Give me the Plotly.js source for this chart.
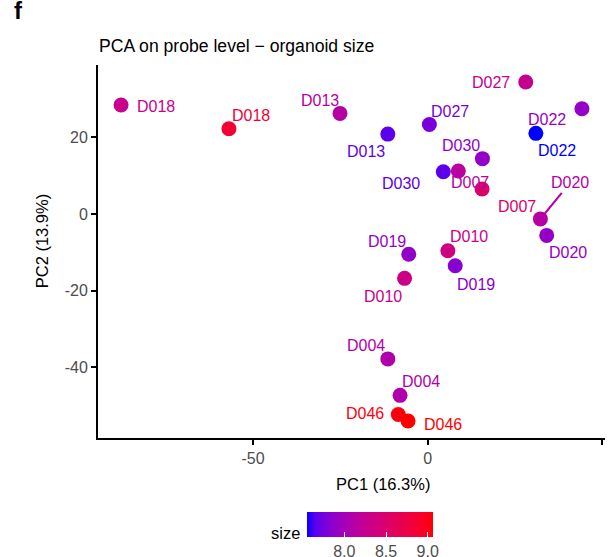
<!DOCTYPE html>
<html>
<head>
<meta charset="utf-8">
<script src="https://cdn.plot.ly/plotly-3.0.1.min.js"></script>
<style>
  html, body { margin: 0; padding: 0; background: #fff; }
  #chart { width: 611px; height: 557px; }
</style>
</head>
<body>
<div id="chart"></div>
<script>
// Sample (donor) identifiers, one per organoid
const sampleIds = ["D018", "D018", "D013", "D013", "D027", "D027", "D022", "D022",
                   "D030", "D030", "D007", "D007", "D020", "D020", "D019", "D010",
                   "D019", "D010", "D004", "D004", "D046", "D046"];
// First two principal components (probe level)
const pc1 = [-87.8, -56.9, -25.1, -11.4, 0.5, 28.1, 44.2, 31.0,
             15.7, 4.5, 8.8, 15.6, 32.3, 34.1, -5.4, 5.8,
             7.9, -6.6, -11.4, -7.9, -8.4, -5.6];
const pc2 = [28.4, 22.2, 26.2, 20.8, 23.3, 34.4, 27.4, 21.0,
             14.4, 11.0, 11.2, 6.5, -1.3, -5.6, -10.5, -9.6,
             -13.5, -16.8, -37.8, -47.3, -52.3, -54.0];
// Organoid size (colour scale)
const orgSize = [8.30, 8.85, 8.12, 7.67, 7.76, 8.26, 7.91, 7.55,
                 7.88, 7.67, 8.15, 8.50, 8.12, 7.90, 7.88, 8.35,
                 7.83, 8.32, 8.08, 8.07, 9.02, 9.06];
const sizeTicks = [8.0, 8.5, 9.0];
const xTicks = [-50, 0, 50];
const yTicks = [-40, -20, 0, 20];

// Label placement (pixel offsets of each label from its point, screen y downward)
const labelDx = [35, 22, -20, -22, 21, -35, -34.5, 21.5,
                 -21.4, -42, 12, 35, 29.6, 21, -21.4, 20.8,
                 21, -21.7, -21.4, 21.3, -33.6, 34.8];
const labelDy = [2, -13, -12.6, 17.7, -13, 1, 11, 17.4,
                 -13, 12, 12, 17.7, -36, 17.6, -13, -14,
                 18.7, 18.3, -13.7, -13.6, -0.7, 3.7];
// label drawn with a leader segment
const leaderIdx = 12;

// ---- blue -> red gradient interpolated in CIE Lab ----
function toLin(c) { c /= 255; return c <= 0.04045 ? c / 12.92 : Math.pow((c + 0.055) / 1.055, 2.4); }
function fromLin(c) {
  c = c <= 0.0031308 ? 12.92 * c : 1.055 * Math.pow(c, 1 / 2.4) - 0.055;
  return Math.max(0, Math.min(255, Math.round(c * 255)));
}
const Xn = 0.95047, Yn = 1.0, Zn = 1.08883;
function fLab(t) { return t > 0.008856 ? Math.cbrt(t) : 7.787 * t + 16 / 116; }
function fInv(t) { return t > 0.206893 ? t * t * t : (t - 16 / 116) / 7.787; }
function rgbToLab(r, g, b) {
  const R = toLin(r), G = toLin(g), B = toLin(b);
  const X = 0.4124 * R + 0.3576 * G + 0.1805 * B;
  const Y = 0.2126 * R + 0.7152 * G + 0.0722 * B;
  const Z = 0.0193 * R + 0.1192 * G + 0.9505 * B;
  const fx = fLab(X / Xn), fy = fLab(Y / Yn), fz = fLab(Z / Zn);
  return [116 * fy - 16, 500 * (fx - fy), 200 * (fy - fz)];
}
function labToHex(L, a, bb) {
  const fy = (L + 16) / 116, fx = fy + a / 500, fz = fy - bb / 200;
  const X = Xn * fInv(fx), Y = Yn * fInv(fy), Z = Zn * fInv(fz);
  const R = 3.2406 * X - 1.5372 * Y - 0.4986 * Z;
  const G = -0.9689 * X + 1.8758 * Y + 0.0415 * Z;
  const B = 0.0557 * X - 0.2040 * Y + 1.0570 * Z;
  const h = v => fromLin(v).toString(16).padStart(2, "0");
  return "#" + h(R) + h(G) + h(B);
}
const labLow = rgbToLab(0, 0, 255), labHigh = rgbToLab(255, 0, 0);
function gradColor(t) {
  t = Math.max(0, Math.min(1, t));
  return labToHex(labLow[0] + (labHigh[0] - labLow[0]) * t,
                  labLow[1] + (labHigh[1] - labLow[1]) * t,
                  labLow[2] + (labHigh[2] - labLow[2]) * t);
}
const cmin = Math.min(...orgSize), cmax = Math.max(...orgSize);
const colorscale = [];
for (let i = 0; i <= 20; i++) colorscale.push([i / 20, gradColor(i / 20)]);
const pointColors = orgSize.map(v => gradColor((v - cmin) / (cmax - cmin)));

// ggplot-style 5% expansion of the data range
function expand(arr) {
  const lo = Math.min(...arr), hi = Math.max(...arr), d = (hi - lo) * 0.05;
  return [lo - d, hi + d];
}

const FONT = "Liberation Sans, Arial, Helvetica, sans-serif";
const GREY = "#4D4D4D";

const trace = {
  type: "scatter",
  mode: "markers",
  x: pc1,
  y: pc2,
  text: sampleIds,
  hoverinfo: "text",
  marker: {
    size: 15,
    color: orgSize,
    colorscale: colorscale,
    cmin: cmin,
    cmax: cmax,
    line: { width: 0 },
    showscale: true,
    colorbar: {
      orientation: "h",
      x: 0.536, xanchor: "center",
      y: -0.1985, yanchor: "top",
      lenmode: "pixels", len: 126,
      thickness: 25,
      xpad: 0, ypad: 0,
      outlinewidth: 0,
      borderwidth: 0,
      tickmode: "array",
      tickvals: sizeTicks,
      ticktext: sizeTicks.map(v => v.toFixed(1)),
      ticks: "inside",
      ticklen: 5,
      tickwidth: 1,
      tickcolor: "#ffffff",
      tickfont: { family: FONT, size: 16, color: GREY }
    }
  }
};

const annotations = sampleIds.map((id, i) => {
  const base = {
    x: pc1[i], y: pc2[i], xref: "x", yref: "y",
    text: id,
    font: { family: FONT, size: 16, color: pointColors[i] },
    xanchor: "center", yanchor: "middle"
  };
  if (i === leaderIdx) {
    return Object.assign(base, {
      showarrow: true, arrowhead: 0, arrowwidth: 2,
      arrowcolor: pointColors[i],
      ax: labelDx[i], ay: labelDy[i],
      standoff: 7
    });
  }
  return Object.assign(base, { showarrow: false, xshift: labelDx[i], yshift: -labelDy[i] });
});

// Panel letter, title, axis titles and colour legend title
annotations.push(
  { xref: "paper", yref: "paper", x: -0.17, y: 1.146, xanchor: "left", yanchor: "middle",
    text: "<b>f</b>", showarrow: false, font: { family: FONT, size: 24, color: "#000" } },
  { xref: "paper", yref: "paper", x: -0.002, y: 1.05, xanchor: "left", yanchor: "middle",
    text: "PCA on probe level \u2212 organoid size", showarrow: false,
    font: { family: FONT, size: 17.6, color: "#000" } },
  { xref: "paper", yref: "paper", x: 0.562, y: -0.122, xanchor: "center", yanchor: "middle",
    text: "PC1 (16.3%)", showarrow: false, font: { family: FONT, size: 16.5, color: "#000" } },
  { xref: "paper", yref: "paper", x: -0.11, y: 0.528, xanchor: "center", yanchor: "middle",
    text: "PC2 (13.9%)", textangle: -90, showarrow: false,
    font: { family: FONT, size: 16.5, color: "#000" } },
  { xref: "paper", yref: "paper", x: 0.37, y: -0.256, xanchor: "center", yanchor: "middle",
    text: "size", showarrow: false, font: { family: FONT, size: 16.5, color: "#000" } }
);

const axisCommon = {
  showgrid: false,
  zeroline: false,
  showline: true,
  linecolor: "#000",
  linewidth: 2,
  ticks: "outside",
  ticklen: 5,
  tickwidth: 2,
  tickcolor: "#000",
  tickfont: { family: FONT, size: 16, color: GREY },
  tickmode: "array",
  fixedrange: true
};

const layout = {
  width: 611,
  height: 557,
  margin: { l: 98, r: 6, t: 65, b: 119, autoexpand: false },
  paper_bgcolor: "#fff",
  plot_bgcolor: "#fff",
  showlegend: false,
  xaxis: Object.assign({}, axisCommon, {
    range: expand(pc1), tickvals: xTicks, ticktext: xTicks.map(String)
  }),
  yaxis: Object.assign({}, axisCommon, {
    range: expand(pc2), tickvals: yTicks, ticktext: yTicks.map(String)
  }),
  annotations: annotations
};

Plotly.newPlot("chart", [trace], layout, { displayModeBar: false, staticPlot: true });
</script>
</body>
</html>
